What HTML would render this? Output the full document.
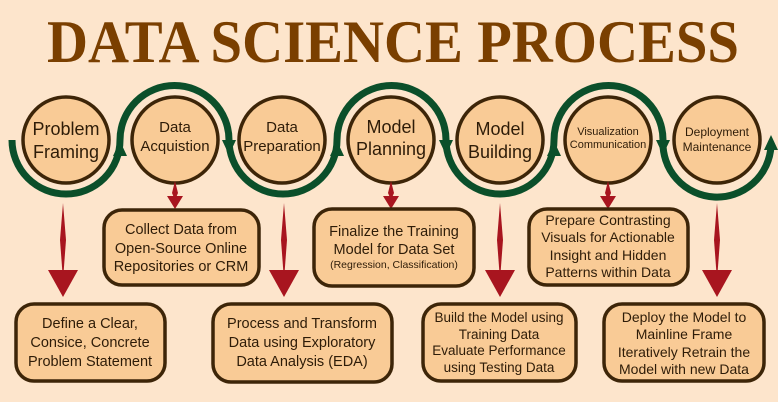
<!DOCTYPE html>
<html><head><meta charset="utf-8"><style>
html,body{margin:0;padding:0;background:#fde5cc;}
svg{display:block;}
text{font-family:"Liberation Sans",sans-serif;fill:#2e1c08;}
</style></head><body>
<svg width="778" height="402" viewBox="0 0 778 402" xmlns="http://www.w3.org/2000/svg">
<rect width="778" height="402" fill="#fde5cc"/>
<text x="393" y="62" text-anchor="middle" textLength="692" lengthAdjust="spacingAndGlyphs" style="font-family:'Liberation Serif',serif;font-weight:bold;font-size:60px;fill:#7a3f00;">DATA SCIENCE PROCESS</text>

<!-- green wave -->
<path d="M12,140 A54,54 0 0 0 120,140 A54,54 0 0 1 229,140 A54,54 0 0 0 337,140 A54,54 0 0 1 446,140 A54,54 0 0 0 554,140 A54,54 0 0 1 663,140 A54,54 0 0 0 771,146" fill="none" stroke="#0b4f2a" stroke-width="7"/>
<g fill="#0b4f2a">
<polygon points="113,156 127,156 120,141"/>
<polygon points="222,140 236,140 229,155"/>
<polygon points="330,156 344,156 337,141"/>
<polygon points="439,140 453,140 446,155"/>
<polygon points="547,156 561,156 554,141"/>
<polygon points="656,140 670,140 663,155"/>
<polygon points="764,150 778,150 771,135"/>
</g>

<!-- circles -->
<g fill="#f9cb96" stroke="#3d2508" stroke-width="3.5">
<circle cx="66" cy="140" r="43"/>
<circle cx="175" cy="140" r="43"/>
<circle cx="282" cy="140" r="43"/>
<circle cx="391" cy="140" r="43"/>
<circle cx="500" cy="140" r="43"/>
<circle cx="608" cy="140" r="43"/>
<circle cx="717" cy="140" r="43"/>
</g>
<g text-anchor="middle">
<text x="66" y="135" font-size="18">Problem</text><text x="66" y="158" font-size="18">Framing</text>
<text x="175" y="132" font-size="15">Data</text><text x="175" y="151" font-size="15">Acquistion</text>
<text x="282" y="132" font-size="15">Data</text><text x="282" y="151" font-size="15">Preparation</text>
<text x="391" y="133" font-size="18">Model</text><text x="391" y="155" font-size="18">Planning</text>
<text x="500" y="135" font-size="18">Model</text><text x="500" y="158" font-size="18">Building</text>
<text x="608" y="135" font-size="11">Visualization</text><text x="608" y="148" font-size="11">Communication</text>
<text x="717" y="136" font-size="12">Deployment</text><text x="717" y="151" font-size="12">Maintenance</text>
</g>

<!-- red arrows -->
<g fill="#a8151f">
<!-- short -->
<polygon points="175,181 178,193 175,200 172,193"/><polygon points="167,196 183,196 175,209 "/>
<polygon points="391,181 394,193 391,200 388,193"/><polygon points="383,196 399,196 391,209"/>
<polygon points="608,181 611,193 608,200 605,193"/><polygon points="600,196 616,196 608,209"/>
<!-- long -->
<polygon points="63,203 66,240 63,280 60,240"/><polygon points="48,270 78,270 63,297 63,297"/>
<polygon points="284,203 287,240 284,280 281,240"/><polygon points="269,270 299,270 284,297"/>
<polygon points="500,203 503,240 500,280 497,240"/><polygon points="485,270 515,270 500,297"/>
<polygon points="717,203 720,240 717,280 714,240"/><polygon points="702,270 732,270 717,297"/>
</g>

<!-- boxes -->
<g fill="#f9cb96" stroke="#3d2508" stroke-width="3.5">
<rect x="16" y="304" width="149" height="77" rx="18"/>
<rect x="104" y="210" width="155" height="75" rx="18"/>
<rect x="213" y="304" width="179" height="78" rx="18"/>
<rect x="314" y="209" width="160" height="77" rx="18"/>
<rect x="423" y="304" width="153" height="77" rx="18"/>
<rect x="529" y="209" width="159" height="76" rx="18"/>
<rect x="604" y="304" width="160" height="77" rx="18"/>
</g>
<g text-anchor="middle" font-size="14.5">
<text x="90" y="328">Define a Clear,</text><text x="90" y="347">Consice, Concrete</text><text x="90" y="366">Problem Statement</text>
<text x="181" y="234">Collect Data from</text><text x="181" y="253">Open-Source Online</text><text x="181" y="271">Repositories or CRM</text>
<text x="302" y="328">Process and Transform</text><text x="302" y="347">Data using Exploratory</text><text x="302" y="366">Data Analysis (EDA)</text>
<text x="394" y="236">Finalize the Training</text><text x="394" y="254">Model for Data Set</text>
<text x="394" y="268" font-size="10.5">(Regression, Classification)</text>
<text x="608" y="225" font-size="14">Prepare Contrasting</text><text x="608" y="242" font-size="14">Visuals for Actionable</text><text x="608" y="260" font-size="14">Insight and Hidden</text><text x="608" y="277" font-size="14">Patterns within Data</text>
<text x="499" y="322" font-size="13.5">Build the Model using</text><text x="499" y="339" font-size="13.5">Training Data</text><text x="499" y="355" font-size="13.5">Evaluate Performance</text><text x="499" y="372" font-size="13.5">using Testing Data</text>
<text x="684" y="322" font-size="14">Deploy the Model to</text><text x="684" y="339" font-size="14">Mainline Frame</text><text x="684" y="357" font-size="14">Iteratively Retrain the</text><text x="684" y="374" font-size="14">Model with new Data</text>
</g>
</svg>
</body></html>
